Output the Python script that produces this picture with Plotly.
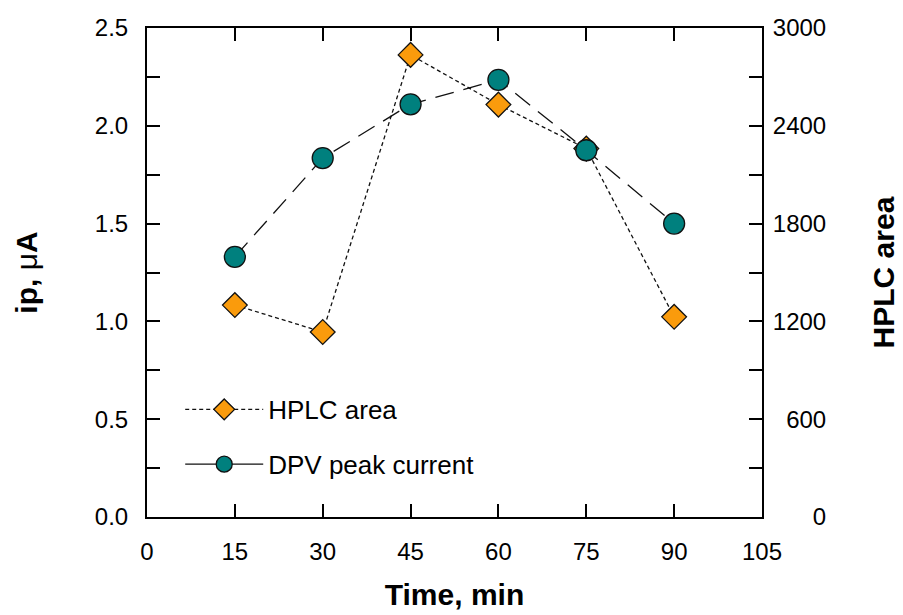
import plotly.graph_objects as go

time_min = [15, 30, 45, 60, 75, 90]
dpv_ip = [1.33, 1.835, 2.11, 2.235, 1.875, 1.50]
hplc_area = [1300, 1135, 2835, 2530, 2260, 1228]

x_ticks = [0, 15, 30, 45, 60, 75, 90, 105]
y_left_ticks = [0.0, 0.5, 1.0, 1.5, 2.0, 2.5]
y_right_ticks = [0, 600, 1200, 1800, 2400, 3000]

FONT = "Liberation Sans, Arial, sans-serif"
ORANGE = "#FA9B0C"
TEAL = "#00807E"
DARK = "#111111"

fig = go.Figure()
fig.add_trace(go.Scatter(
    x=time_min, y=hplc_area, name="HPLC area", yaxis="y", legendgroup="a",
    mode="lines+markers",
    line=dict(color=DARK, width=1.3, dash="4px,3px"),
    marker=dict(symbol="diamond", size=19, color=ORANGE, line=dict(color=DARK, width=1.3)),
))
fig.add_trace(go.Scatter(
    x=time_min, y=dpv_ip, name="DPV peak current", yaxis="y2", legendgroup="b",
    mode="lines+markers", showlegend=False,
    line=dict(color=DARK, width=1.3, dash="19px,10px"),
    marker=dict(symbol="circle", size=21, color=TEAL, line=dict(color=DARK, width=1.3)),
))
# legend entry for DPV (solid short line as in the reference legend)
fig.add_trace(go.Scatter(
    x=[None], y=[None], name="DPV peak current", yaxis="y2", legendgroup="b",
    mode="lines+markers",
    line=dict(color=DARK, width=1.3),
    marker=dict(symbol="circle", size=21, color=TEAL, line=dict(color=DARK, width=1.3)),
))

axis_common = dict(
    showgrid=False, zeroline=False, showline=True, linecolor="black", linewidth=2,
    ticks="inside", ticklen=13, tickwidth=1.5, tickcolor="black", automargin=False,
    tickfont=dict(family=FONT, size=24, color="black"),
)
title_font = dict(family=FONT, size=30, color="black")

right_text = [str(v) for v in y_right_ticks]
maxlen = max(len(t) for t in right_text)
right_text = ["\u2007" * (maxlen - len(t)) + t for t in right_text]

fig.update_layout(
    width=895, height=607,
    margin=dict(l=139, r=141, t=20, b=98),
    paper_bgcolor="white", plot_bgcolor="white",
    showlegend=True,
    legend=dict(x=0.054, y=0.268, xanchor="left", yanchor="top",
                bgcolor="rgba(0,0,0,0)", tracegroupgap=18, itemwidth=78,
                font=dict(family=FONT, size=26, color="black")),
    xaxis=dict(range=[0, 105], tickvals=x_ticks, ticktext=[str(v) for v in x_ticks],
               mirror="ticks", ticklabelstandoff=12,
               title=dict(text="<b>Time, min</b>", font=title_font, standoff=20),
               **axis_common),
    yaxis=dict(range=[0, 3000], side="right", tickvals=y_right_ticks,
               ticktext=right_text, ticklabelstandoff=4,
               minor=dict(dtick=300, ticks="inside", ticklen=13, tickwidth=1.5, tickcolor="black"),
               title=dict(text="<b>HPLC area</b>", font=title_font, standoff=48),
               **axis_common),
    yaxis2=dict(range=[0, 2.5], side="left", overlaying="y", tickvals=y_left_ticks,
                ticktext=[f"{v:.1f}" for v in y_left_ticks], ticklabelstandoff=12,
                minor=dict(dtick=0.25, ticks="inside", ticklen=13, tickwidth=1.5, tickcolor="black"),
                title=dict(text="<b>ip,</b> μ<b>A</b>", font=title_font, standoff=48),
                **axis_common),
)

fig.write_html("out.html")
